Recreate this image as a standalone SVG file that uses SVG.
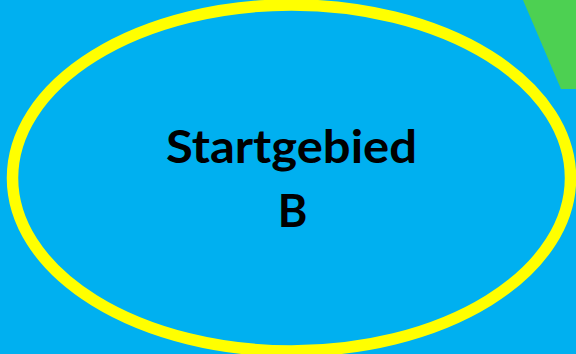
<svg xmlns="http://www.w3.org/2000/svg" width="576" height="354" viewBox="0 0 576 354">
<style>
.lbl{font-family:Lato,"Open Sans","Liberation Sans",sans-serif;font-weight:bold;font-size:45px;fill:#000;text-anchor:middle}
</style>
<rect x="0" y="0" width="576" height="354" fill="#00B0F0"/>
<polygon points="523,0 576,0 576,89 561,89" fill="#4DD052"/>
<g id="startgebied-b">
<ellipse cx="291.5" cy="178" rx="279" ry="173" fill="#00B0F0" stroke="#FFFF00" stroke-width="11.5"/>
<text class="lbl" x="291.5" y="163" textLength="251" lengthAdjust="spacingAndGlyphs">Startgebied</text>
<text class="lbl" x="292.5" y="227">B</text>
</g>
</svg>
